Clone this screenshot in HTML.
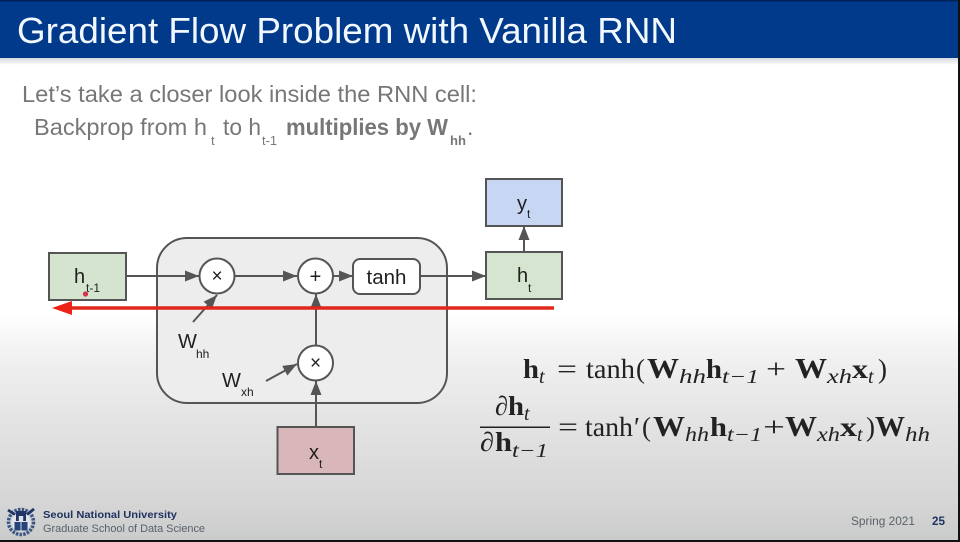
<!DOCTYPE html>
<html>
<head>
<meta charset="utf-8">
<style>
html,body{margin:0;padding:0;width:960px;height:542px;overflow:hidden;background:#fff}
svg{display:block;filter:blur(.3px)}
text{font-family:"Liberation Sans",sans-serif}
.m{font-family:"Liberation Serif",serif;fill:#222}
.b{font-weight:bold}
.i{font-style:italic}
.w{font-size:28px}
.s{font-size:20px}
</style>
</head>
<body>
<svg width="960" height="542" viewBox="0 0 960 542" xmlns="http://www.w3.org/2000/svg">
<defs>
<linearGradient id="bg" gradientUnits="userSpaceOnUse" x1="0" y1="0" x2="0" y2="542">
<stop offset="0" stop-color="#fff"/><stop offset=".58" stop-color="#ffffff"/>
<stop offset=".64" stop-color="#f3f3f3"/><stop offset=".78" stop-color="#e3e3e3"/>
<stop offset=".93" stop-color="#d5d5d5"/><stop offset="1" stop-color="#c9cbca"/>
</linearGradient>
<linearGradient id="sh" x1="0" y1="0" x2="0" y2="1">
<stop offset="0" stop-color="#d4d8de"/><stop offset="1" stop-color="#fff"/>
</linearGradient>
<marker id="a" viewBox="0 0 14 11" refX="14" refY="5.500" markerWidth="14" markerHeight="11" markerUnits="userSpaceOnUse" orient="auto">
<path d="M0 0L14 5.500L0 11z" fill="#555"/>
</marker>
</defs>

<rect width="960" height="542" fill="url(#bg)"/>
<rect y="58" width="960" height="7" fill="url(#sh)"/>
<rect width="960" height="58" fill="#023a8b"/>
<rect width="960" height="1.500" fill="#00205a"/>
<text x="17" y="43" font-size="36" fill="#f2f8ff" textLength="660" lengthAdjust="spacingAndGlyphs">Gradient Flow Problem with Vanilla RNN</text>

<g fill="#777">
<text x="22" y="102" font-size="23" textLength="455" lengthAdjust="spacingAndGlyphs">Let’s take a closer look inside the RNN cell:</text>
<text x="34" y="135" font-size="23" textLength="173" lengthAdjust="spacingAndGlyphs">Backprop from h</text>
<text x="211" y="145" font-size="13">t</text>
<text x="223" y="135" font-size="23" textLength="38" lengthAdjust="spacingAndGlyphs">to h</text>
<text x="262" y="145" font-size="13" textLength="15" lengthAdjust="spacingAndGlyphs">t-1</text>
<text x="286" y="135" font-size="23" class="b" textLength="162" lengthAdjust="spacingAndGlyphs">multiplies by W</text>
<text x="450" y="145" font-size="13" class="b" textLength="16" lengthAdjust="spacingAndGlyphs">hh</text>
<text x="467" y="135" font-size="23">.</text>
</g>

<!-- RNN cell -->
<rect x="157" y="238" width="290" height="165" rx="30" fill="#ededed" stroke="#555" stroke-width="2"/>

<!-- Connectors -->
<g stroke="#555" stroke-width="2" fill="none">
<path d="M126 276H199" marker-end="url(#a)"/>
<path d="M235 276H297" marker-end="url(#a)"/>
<path d="M333 276H353" marker-end="url(#a)"/>
<path d="M420 276H486" marker-end="url(#a)"/>
<path d="M524 252V226" marker-end="url(#a)"/>
<path d="M316 345V294" marker-end="url(#a)"/>
<path d="M316 427V381" marker-end="url(#a)"/>
<path d="M193 322L217 295" marker-end="url(#a)"/>
<path d="M266 381L297 364" marker-end="url(#a)"/>
</g>

<!-- Boxes -->
<g stroke="#555" stroke-width="2">
<rect x="49" y="253" width="77" height="47" fill="#d5e4cf"/>
<rect x="486" y="252" width="76" height="47" fill="#d6e5d0"/>
<rect x="486" y="179" width="76" height="47" fill="#c6d6f3"/>
<rect x="277.500" y="427" width="76.500" height="47" fill="#d9b6b9"/>
<circle cx="217" cy="276" r="17.500" fill="#fff"/>
<circle cx="315.500" cy="276" r="17.500" fill="#fff"/>
<circle cx="315.500" cy="363" r="17.500" fill="#fff"/>
<rect x="353" y="259" width="67" height="35" rx="7" fill="#fff"/>
</g>

<g fill="#1f1f1f">
<text x="217" y="282" font-size="19" text-anchor="middle">×</text>
<text x="315.500" y="283" font-size="20" text-anchor="middle">+</text>
<text x="315.500" y="369" font-size="19" text-anchor="middle">×</text>
<text x="386.500" y="284" font-size="20.500" text-anchor="middle">tanh</text>
<text x="74" y="283" font-size="20">h</text>
<text x="86" y="292" font-size="12">t-1</text>
<text x="517" y="282" font-size="20">h</text>
<text x="528" y="292" font-size="12">t</text>
<text x="517" y="210" font-size="20">y</text>
<text x="527" y="218" font-size="12">t</text>
<text x="309" y="459" font-size="20">x</text>
<text x="319" y="468" font-size="12">t</text>
<text x="178" y="348" font-size="20">W</text>
<text x="196" y="358" font-size="12">hh</text>
<text x="222" y="387" font-size="20">W</text>
<text x="241" y="396" font-size="12">xh</text>
</g>

<!-- Red arrow and pointer -->
<path d="M70 308H554" stroke="#e0281a" stroke-width="3.500" fill="none"/>
<path d="M52 308L72 301V315z" fill="#ee2318"/>
<circle cx="85.500" cy="294" r="2.600" fill="#d83045"/>

<!-- Equation 1 -->
<g font-size="27">
<text class="m b" x="523" y="378" textLength="16" lengthAdjust="spacingAndGlyphs">h</text>
<text class="m i s" x="539" y="383">t</text>
<text class="m" x="557" y="378" textLength="20" lengthAdjust="spacingAndGlyphs">=</text>
<text class="m" x="586" y="378" textLength="49" lengthAdjust="spacingAndGlyphs">tanh</text>
<text class="m" x="636" y="378" textLength="9" lengthAdjust="spacingAndGlyphs">(</text>
<text class="m b w" x="647" y="378" textLength="32" lengthAdjust="spacingAndGlyphs">W</text>
<text class="m i s" x="679" y="383" textLength="27" lengthAdjust="spacingAndGlyphs">hh</text>
<text class="m b" x="706" y="378" textLength="16" lengthAdjust="spacingAndGlyphs">h</text>
<text class="m i s" x="722" y="383" textLength="37" lengthAdjust="spacingAndGlyphs">t−1</text>
<text class="m" x="766" y="378" textLength="20" lengthAdjust="spacingAndGlyphs">+</text>
<text class="m b w" x="795" y="378" textLength="32" lengthAdjust="spacingAndGlyphs">W</text>
<text class="m i s" x="827" y="383" textLength="25" lengthAdjust="spacingAndGlyphs">xh</text>
<text class="m b" x="852" y="378" textLength="16" lengthAdjust="spacingAndGlyphs">x</text>
<text class="m i s" x="868" y="383">t</text>
<text class="m" x="878" y="378" textLength="9" lengthAdjust="spacingAndGlyphs">)</text>
</g>

<!-- Equation 2 -->
<g font-size="27">
<text class="m" x="495" y="415" textLength="13" lengthAdjust="spacingAndGlyphs">∂</text>
<text class="m b" x="508" y="415" textLength="16" lengthAdjust="spacingAndGlyphs">h</text>
<text class="m i s" x="524" y="420">t</text>
<rect x="480" y="426.500" width="70" height="1.500" fill="#222"/>
<text class="m" x="480" y="451" textLength="14" lengthAdjust="spacingAndGlyphs">∂</text>
<text class="m b" x="495" y="451" textLength="17" lengthAdjust="spacingAndGlyphs">h</text>
<text class="m i s" x="512" y="457" textLength="36" lengthAdjust="spacingAndGlyphs">t−1</text>
<text class="m" x="558" y="436" textLength="20" lengthAdjust="spacingAndGlyphs">=</text>
<text class="m" x="585" y="436" textLength="48" lengthAdjust="spacingAndGlyphs">tanh</text>
<text class="m b" x="634" y="436" textLength="6" lengthAdjust="spacingAndGlyphs">′</text>
<text class="m" x="642" y="436" textLength="9" lengthAdjust="spacingAndGlyphs">(</text>
<text class="m b w" x="653" y="436" textLength="32" lengthAdjust="spacingAndGlyphs">W</text>
<text class="m i s" x="685" y="441" textLength="24" lengthAdjust="spacingAndGlyphs">hh</text>
<text class="m b" x="710" y="436" textLength="17" lengthAdjust="spacingAndGlyphs">h</text>
<text class="m i s" x="727" y="441" textLength="35" lengthAdjust="spacingAndGlyphs">t−1</text>
<text class="m" x="763" y="436" textLength="22" lengthAdjust="spacingAndGlyphs">+</text>
<text class="m b w" x="785" y="436" textLength="32" lengthAdjust="spacingAndGlyphs">W</text>
<text class="m i s" x="817" y="441" textLength="23" lengthAdjust="spacingAndGlyphs">xh</text>
<text class="m b" x="840" y="436" textLength="17" lengthAdjust="spacingAndGlyphs">x</text>
<text class="m i s" x="857" y="441">t</text>
<text class="m" x="866" y="436" textLength="9" lengthAdjust="spacingAndGlyphs">)</text>
<text class="m b w" x="875" y="436" textLength="30" lengthAdjust="spacingAndGlyphs">W</text>
<text class="m i s" x="905" y="441" textLength="25" lengthAdjust="spacingAndGlyphs">hh</text>
</g>

<!-- Footer logo -->
<g>
<circle cx="21" cy="522" r="12.500" fill="none" stroke="#3a5685" stroke-width="3.500" stroke-dasharray="2.500 1.200"/>
<path d="M8 510L17 516M34 509L25 516" stroke="#1e3566" stroke-width="2.800"/>
<circle cx="21" cy="522" r="9.500" fill="#dfe2e6"/>
<rect x="14.500" y="522" width="13" height="8.500" fill="#25437a"/>
<path d="M16 511h10v10h-2.800v-5h-4.400v5H16z" fill="#1e3566"/>
<path d="M21 522v8.500" stroke="#cfd5dd"/>
</g>
<text x="43" y="518" font-size="10.500" class="b" fill="#20325f" textLength="134" lengthAdjust="spacingAndGlyphs">Seoul National University</text>
<text x="43" y="532" font-size="11" fill="#58616a" textLength="162" lengthAdjust="spacingAndGlyphs">Graduate School of Data Science</text>
<text x="851" y="525" font-size="11.500" fill="#5b6268" textLength="64" lengthAdjust="spacingAndGlyphs">Spring 2021</text>
<text x="932" y="525" font-size="11.500" class="b" fill="#20325f" textLength="13" lengthAdjust="spacingAndGlyphs">25</text>
<rect y="540" width="960" height="2" fill="#111"/>
<rect x="958" width="2" height="542" fill="#111"/>
</svg>
</body>
</html>
